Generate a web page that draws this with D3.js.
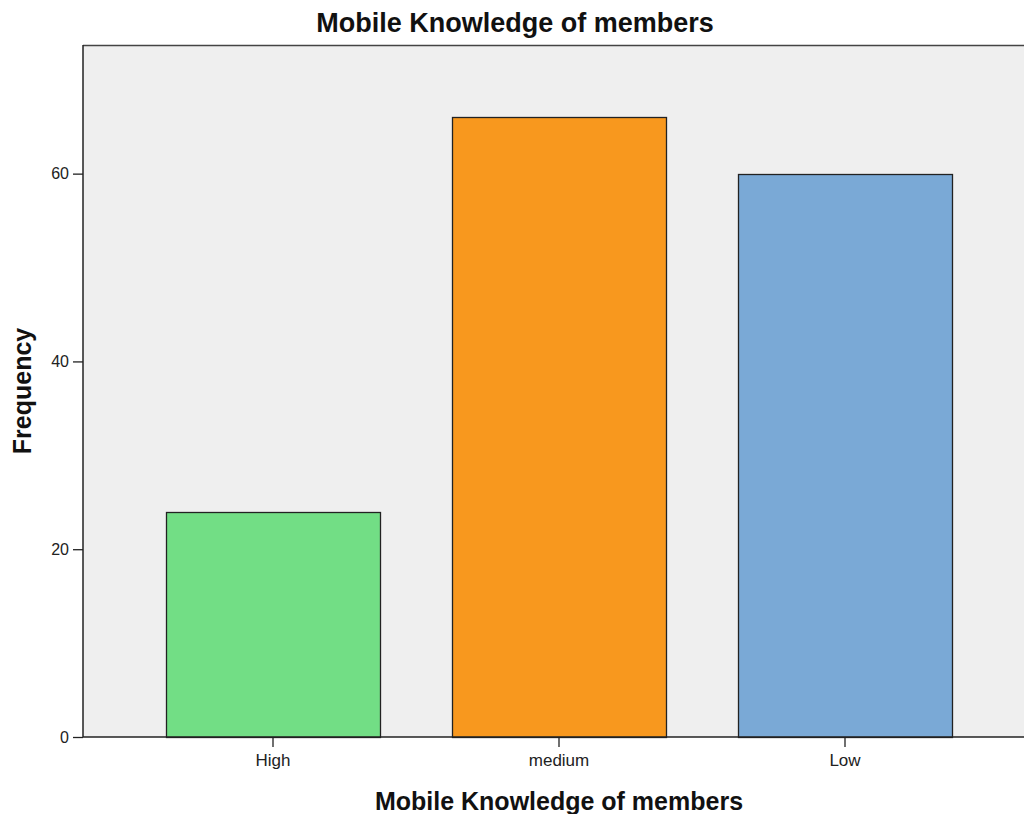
<!DOCTYPE html>
<html>
<head>
<meta charset="utf-8">
<script src="https://cdn.jsdelivr.net/npm/d3@7"></script>
<style>
  html, body { margin: 0; padding: 0; background: #fff; }
  svg { display: block; font-family: "Liberation Sans", Arial, sans-serif; }
</style>
</head>
<body>
<svg id="chart" width="1024" height="814"></svg>
<script>
// Frequency of mobile knowledge levels
const categories = ["High", "medium", "Low"];
const frequencies = [24, 66, 60];
const barColors = ["#72de85", "#f8981e", "#7aa9d6"];
const yTicks = [0, 20, 40, 60];

const svg = d3.select("#chart");
const plot = { left: 83, top: 45, right: 1024, bottom: 737 };

const x = d3.scaleBand()
  .domain(categories)
  .range([130, 988])
  .paddingInner(0.25)
  .paddingOuter(0.125);

const y = d3.scaleLinear()
  .domain([0, 73.7])
  .range([plot.bottom, plot.top]);

// plot background
svg.append("rect")
  .attr("x", plot.left).attr("y", plot.top)
  .attr("width", plot.right - plot.left)
  .attr("height", plot.bottom - plot.top)
  .attr("fill", "#efefef");

// top frame line
svg.append("line")
  .attr("x1", plot.left).attr("x2", plot.right)
  .attr("y1", plot.top + 0.5).attr("y2", plot.top + 0.5)
  .attr("stroke", "#444").attr("stroke-width", 1.5);

// bars
svg.append("g").selectAll("rect")
  .data(categories.map((c, i) => ({ c, v: frequencies[i], color: barColors[i] })))
  .join("rect")
  .attr("x", d => Math.round(x(d.c)) + 0.5)
  .attr("y", d => Math.round(y(d.v)) + 0.5)
  .attr("width", Math.round(x.bandwidth()) - 1)
  .attr("height", d => Math.round(y(0)) - Math.round(y(d.v)))
  .attr("fill", d => d.color)
  .attr("stroke", "#222")
  .attr("stroke-width", 1.3);

// y axis
const yAxis = svg.append("g")
  .attr("transform", `translate(${plot.left},0)`)
  .call(d3.axisLeft(y).tickValues(yTicks).tickSize(10).tickPadding(4).tickSizeOuter(0));
yAxis.select(".domain").attr("stroke", "#222").attr("stroke-width", 1.5)
  .attr("d", `M0,${plot.top}V${plot.bottom}`);
yAxis.selectAll(".tick line").attr("stroke", "#222").attr("stroke-width", 1.3);
yAxis.selectAll(".tick text")
  .attr("font-size", 16).attr("fill", "#222")
  .attr("font-family", "Liberation Sans, Arial, sans-serif");

// x axis
const xAxis = svg.append("g")
  .attr("transform", `translate(0,${plot.bottom})`)
  .call(d3.axisBottom(x).tickSize(10).tickPadding(7).tickSizeOuter(0));
xAxis.select(".domain").attr("stroke", "#222").attr("stroke-width", 1.5)
  .attr("d", `M${plot.left},0H${plot.right}`);
xAxis.selectAll(".tick line").attr("stroke", "#222").attr("stroke-width", 1.3);
xAxis.selectAll(".tick text")
  .attr("font-size", 17).attr("fill", "#222")
  .attr("font-family", "Liberation Sans, Arial, sans-serif");

// titles
svg.append("text")
  .attr("x", 515).attr("y", 32)
  .attr("text-anchor", "middle")
  .attr("font-size", 27).attr("font-weight", "bold").attr("fill", "#111")
  .text("Mobile Knowledge of members");

svg.append("text")
  .attr("x", 559).attr("y", 810)
  .attr("text-anchor", "middle")
  .attr("font-size", 25).attr("font-weight", "bold").attr("fill", "#111")
  .text("Mobile Knowledge of members");

svg.append("text")
  .attr("transform", "translate(31,391) rotate(-90)")
  .attr("text-anchor", "middle")
  .attr("font-size", 25).attr("font-weight", "bold").attr("fill", "#111")
  .text("Frequency");
</script>
</body>
</html>
